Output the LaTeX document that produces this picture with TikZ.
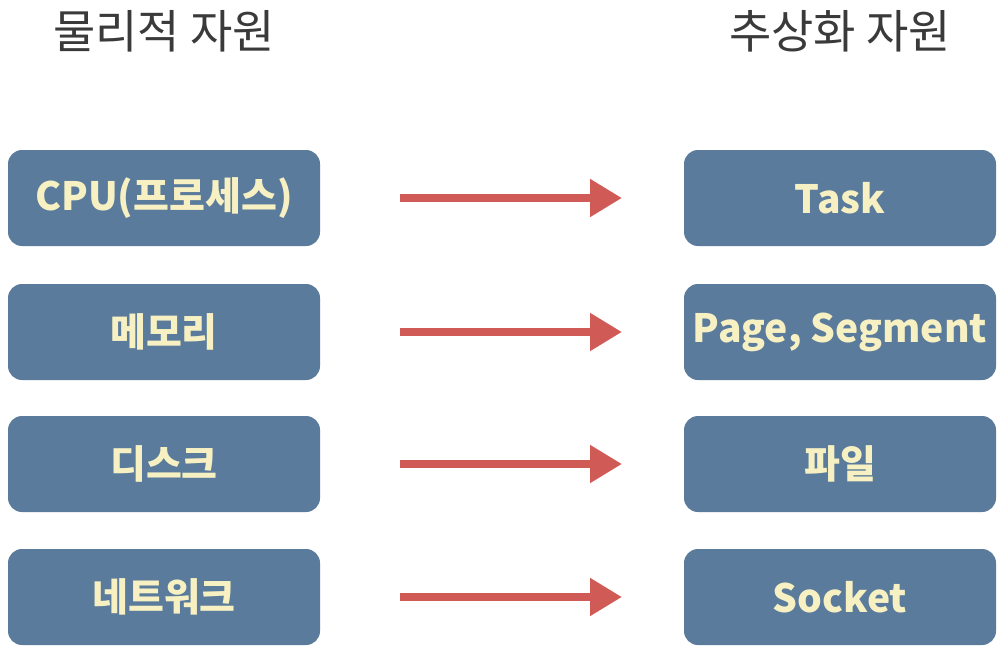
\documentclass[tikz,border=0pt]{standalone}
\usepackage{fontspec}
\setmainfont{Noto Sans CJK KR}
\usetikzlibrary{arrows.meta}
\definecolor{boxfill}{HTML}{5A7B9B}
\definecolor{boxtext}{HTML}{F6F0C2}
\definecolor{arrowred}{HTML}{D05A55}
\definecolor{headgray}{HTML}{3A3A3A}
\begin{document}
\begin{tikzpicture}[x=1pt,y=-1pt,
  resbox/.style={fill=boxfill,rounded corners=14pt,minimum width=312pt,minimum height=96pt,inner sep=0pt,text=boxtext,font=\fontsize{39}{44}\selectfont\bfseries},
  heading/.style={text=headgray,font=\fontsize{46}{52}\selectfont,inner sep=0pt},
  conn/.style={draw=arrowred,line width=8pt,-{Triangle[length=32pt,width=36pt]}}]
\useasboundingbox (0,0) rectangle (1005,653);
\node[heading] (h1) at (164,31) {물리적 자원};
\node[heading] (h2) at (840,31) {추상화 자원};
\foreach \i/\y/\l/\r in {1/198/{CPU(프로세스)}/{Task},2/332/{메모리}/{Page, Segment},3/464/{디스크}/{파일},4/597/{네트워크}/{Socket}}{
  \node[resbox] (l\i) at (164,\y) {\l};
  \node[resbox] (r\i) at (840,\y) {\r};
  \coordinate (a\i) at (400,\y);
  \coordinate (b\i) at (622,\y);
  \draw[conn] (a\i) -- (b\i);
}
\end{tikzpicture}
\end{document}
